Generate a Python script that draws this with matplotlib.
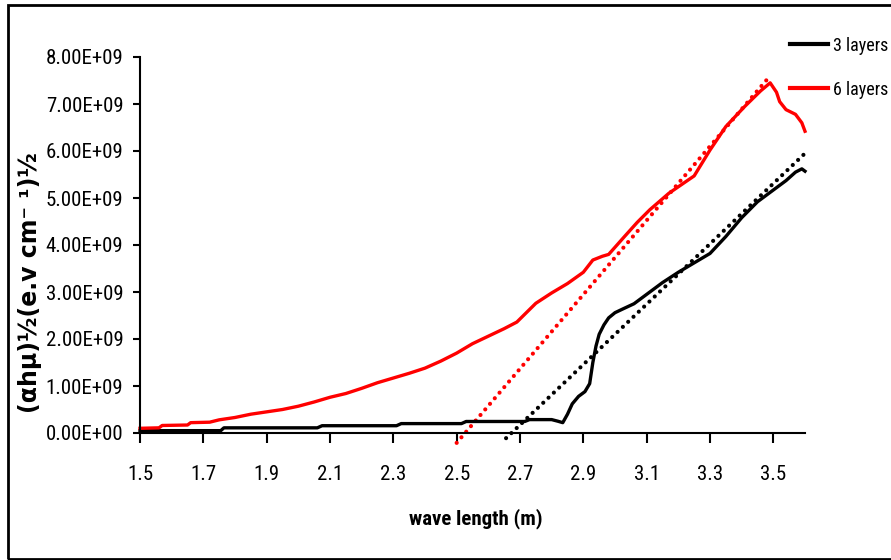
import matplotlib
matplotlib.use('Agg')
import matplotlib.pyplot as plt
from matplotlib import font_manager
from matplotlib.patches import Rectangle

# look for a narrow/condensed face for the horizontal text
fonts = font_manager.fontManager.ttflist
narrow = None
for cand in ['Liberation Sans Narrow', 'Arial Narrow', 'DejaVu Sans Condensed',
             'Roboto Condensed', 'Open Sans Condensed', 'Noto Sans Condensed']:
    if any(f.name == cand for f in fonts):
        narrow = {'family': cand}
        break
if narrow is None:
    cond = [f for f in fonts if 'condensed' in str(f.stretch).lower()
            or 'Condensed' in f.fname or 'Narrow' in f.fname]
    if cond:
        narrow = {'family': cond[0].name, 'stretch': 'condensed'}
    else:
        narrow = {'family': 'Liberation Sans'}
scale = 1.0 if narrow['family'] != 'Liberation Sans' else 0.85

# 3 layers (x in m, y in 1e9)
x3 = [1.50, 1.755, 1.765, 2.06, 2.075, 2.31, 2.325, 2.515, 2.53, 2.715, 2.73, 2.80,
      2.82, 2.835, 2.85, 2.865, 2.885, 2.905, 2.92, 2.93, 2.94, 2.95, 2.965, 2.98,
      3.00, 3.025, 3.06, 3.10, 3.15, 3.20, 3.25, 3.30, 3.35, 3.40, 3.45, 3.50,
      3.54, 3.57, 3.59, 3.60]
y3 = [0.05, 0.05, 0.11, 0.11, 0.155, 0.155, 0.20, 0.20, 0.245, 0.245, 0.285, 0.285,
      0.25, 0.22, 0.40, 0.62, 0.78, 0.88, 1.05, 1.50, 1.85, 2.10, 2.30, 2.45,
      2.56, 2.64, 2.75, 2.95, 3.20, 3.42, 3.62, 3.82, 4.18, 4.58, 4.92, 5.17,
      5.37, 5.55, 5.62, 5.57]

# 6 layers
x6 = [1.50, 1.56, 1.57, 1.65, 1.66, 1.72, 1.75, 1.80, 1.85, 1.90, 1.95, 2.00, 2.05,
      2.10, 2.15, 2.20, 2.25, 2.30, 2.35, 2.40, 2.45, 2.50, 2.55, 2.60, 2.65, 2.69,
      2.72, 2.75, 2.80, 2.85, 2.90, 2.93, 2.96, 2.98, 3.03, 3.07, 3.11, 3.17, 3.25,
      3.30, 3.35, 3.41, 3.46, 3.49, 3.51, 3.52, 3.54, 3.57, 3.59, 3.60]
y6 = [0.10, 0.11, 0.16, 0.17, 0.22, 0.23, 0.28, 0.33, 0.40, 0.45, 0.50, 0.57, 0.66,
      0.76, 0.84, 0.95, 1.07, 1.17, 1.27, 1.38, 1.53, 1.70, 1.90, 2.06, 2.22, 2.36,
      2.56, 2.76, 2.98, 3.18, 3.42, 3.68, 3.76, 3.80, 4.18, 4.48, 4.75, 5.10, 5.47,
      6.02, 6.52, 6.95, 7.28, 7.45, 7.25, 7.05, 6.88, 6.78, 6.60, 6.42]

# linear fit lines (end points)
fit3_x = [2.656, 3.60]
fit3_y = [-0.11, 5.95]
fit6_x = [2.50, 3.49]
fit6_y = [-0.21, 7.60]

yticks = [0, 1, 2, 3, 4, 5, 6, 7, 8]
xticks = [1.5, 1.7, 1.9, 2.1, 2.3, 2.5, 2.7, 2.9, 3.1, 3.3, 3.5]

fig = plt.figure(figsize=(8.91, 5.6), dpi=100)
ax = fig.add_axes([140/891, 1-433/560, (805-140)/891, (433-57)/560])

dots = (0, (0.01, 1.75))
ax.plot(fit3_x, [v*1e9 for v in fit3_y], color='black', lw=3, ls=dots,
        dash_capstyle='round', clip_on=False)
ax.plot(fit6_x, [v*1e9 for v in fit6_y], color='#ff0000', lw=3, ls=dots,
        dash_capstyle='round', clip_on=False)
l3, = ax.plot(x3, [v*1e9 for v in y3], color='black', lw=2.4, clip_on=False)
l6, = ax.plot(x6, [v*1e9 for v in y6], color='#ff0000', lw=2.4, clip_on=False)

ax.set_xlim(1.5, 3.6)
ax.set_ylim(0, 8e9)
ax.set_xticks(xticks)
ax.set_xticklabels(['%.1f' % t for t in xticks])
ax.set_yticks([t*1e9 for t in yticks])
ax.set_yticklabels(['%.2fE+%s' % (t, '09' if t else '00') for t in yticks])
for s in ['top', 'right']:
    ax.spines[s].set_visible(False)
for s in ['left', 'bottom']:
    ax.spines[s].set_linewidth(1.5)
ax.tick_params(axis='y', direction='out', length=5, width=1.5, pad=7)
ax.tick_params(axis='x', direction='out', length=7, width=1.5, pad=16)
for lab in ax.get_xticklabels() + ax.get_yticklabels():
    lab.set_fontfamily(narrow['family'])
    if 'stretch' in narrow:
        lab.set_fontstretch(narrow['stretch'])
    lab.set_fontsize(15*scale)

fig.text(476/891, 1-519/560, 'wave length (m)', ha='center', va='center',
         fontsize=15*scale, fontweight='bold', **narrow)
fig.text(30/891, 1-283/560, '(αhμ)½(e.v cm⁻ ¹)½', ha='center', va='center',
         rotation=90, fontfamily='DejaVu Sans', fontsize=17, fontweight='bold')

leg = fig.legend([l3, l6], ['3 layers', '6 layers'], loc='upper left',
                 bbox_to_anchor=(786/891, 1-33/560), frameon=True,
                 prop=dict(size=13*scale, **narrow), handlelength=2.1,
                 handletextpad=0.3, labelspacing=1.45, borderpad=0.2,
                 borderaxespad=0)
leg.get_frame().set_edgecolor('none')
leg.get_frame().set_facecolor('white')
leg.get_frame().set_alpha(1)
for h in leg.legend_handles:
    h.set_linewidth(3)

fig.add_artist(Rectangle((8/891, 1/560), 1.0, 554/560, transform=fig.transFigure,
                         fill=False, edgecolor='black', lw=2, clip_on=False))

fig.savefig('out.png', dpi=100)
